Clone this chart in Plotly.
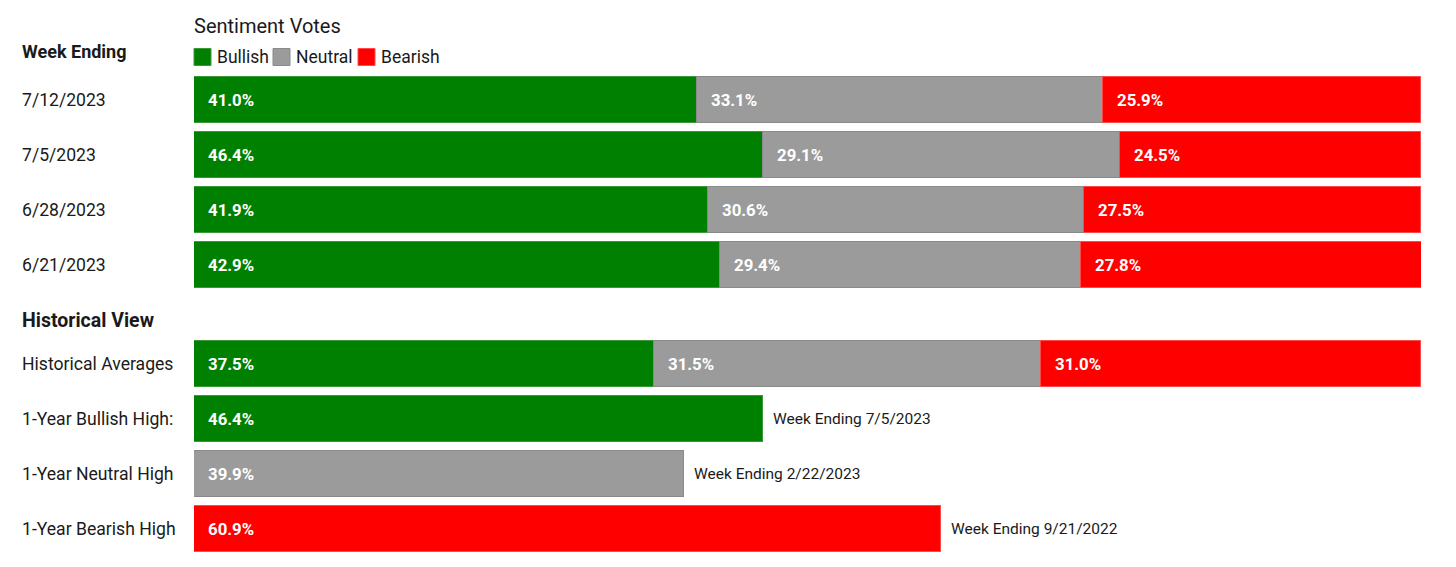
import plotly.graph_objects as go

# ---- data ----
week_labels = ["7/12/2023", "7/5/2023", "6/28/2023", "6/21/2023"]
week_bullish = [41.0, 46.4, 41.9, 42.9]
week_neutral = [33.1, 29.1, 30.6, 29.4]
week_bearish = [25.9, 24.5, 27.5, 27.8]

hist_avg_label = "Historical Averages"
hist_avg = {"Bullish": 37.5, "Neutral": 31.5, "Bearish": 31.0}

high_labels = ["1-Year Bullish High:", "1-Year Neutral High", "1-Year Bearish High"]
high_series = ["Bullish", "Neutral", "Bearish"]
high_values = [46.4, 39.9, 60.9]
high_notes = ["Week Ending 7/5/2023", "Week Ending 2/22/2023", "Week Ending 9/21/2022"]

series_names = ["Bullish", "Neutral", "Bearish"]
colors = {"Bullish": "#008000", "Neutral": "#9b9b9b", "Bearish": "#ff0000"}
edge = {"Bullish": "#3a9a3a", "Neutral": "#8a8a8a", "Bearish": "#ff4a4a"}

FONT = "Roboto"
TXT = "#1a1a1a"

# row positions (in row units)
week_pos = [float(i) for i in range(len(week_labels))]
hist_pos = 4.8
high_pos = [5.8 + i for i in range(len(high_labels))]

week_vals = {"Bullish": week_bullish, "Neutral": week_neutral, "Bearish": week_bearish}

fig = go.Figure()
for s in series_names:
    ys = list(week_pos) + [hist_pos]
    xs = list(week_vals[s]) + [hist_avg[s]]
    k = high_series.index(s)
    ys.append(high_pos[k])
    xs.append(high_values[k])
    fig.add_trace(go.Bar(
        x=xs, y=ys, orientation="h", name=s,
        marker=dict(color=colors[s], line=dict(color=edge[s], width=1)),
        width=0.82, hoverinfo="skip", showlegend=False,
    ))

annotations = []
shapes = []

def value_label(x0, y, v):
    annotations.append(dict(
        x=x0, y=y, xref="x", yref="y", text=f"<b>{v:.1f}%</b>",
        showarrow=False, xanchor="left", yanchor="middle", xshift=12,
        font=dict(family=FONT, size=16.8, color="white")))

for i, y in enumerate(week_pos):
    base = 0.0
    for s in series_names:
        v = week_vals[s][i]
        value_label(base, y, v)
        base += v
base = 0.0
for s in series_names:
    value_label(base, hist_pos, hist_avg[s])
    base += hist_avg[s]
for v, y, note in zip(high_values, high_pos, high_notes):
    value_label(0, y, v)
    annotations.append(dict(
        x=v, y=y, xref="x", yref="y", text=note, showarrow=False,
        xanchor="left", yanchor="middle", xshift=8,
        font=dict(family=FONT, size=15.5, color=TXT)))

# geometry helpers (figure pixels; page has 8px body margin)
W, H = 1456, 567
L, R = 186, 43
PW = W - L - R
ROW0 = 92  # pixel center of first row in figure coords
ROWH = 55

LX = (20 - 194) / PW
for lab, y in zip(week_labels, week_pos):
    annotations.append(dict(x=LX, y=y, xref="paper", yref="y", text=lab, showarrow=False,
                            xanchor="left", yanchor="middle",
                            font=dict(family=FONT, size=17.6, color=TXT)))
for lab, y in zip([hist_avg_label] + high_labels, [hist_pos] + high_pos):
    annotations.append(dict(x=LX, y=y, xref="paper", yref="y", text=lab, showarrow=False,
                            xanchor="left", yanchor="middle",
                            font=dict(family=FONT, size=17.6, color=TXT)))

# headers
annotations.append(dict(x=LX, y=-0.89, xref="paper", yref="y", text="<b>Week Ending</b>",
                        showarrow=False, xanchor="left", yanchor="middle",
                        font=dict(family=FONT, size=18, color=TXT)))
annotations.append(dict(x=LX, y=4.0, xref="paper", yref="y", text="<b>Historical View</b>",
                        showarrow=False, xanchor="left", yanchor="middle",
                        font=dict(family=FONT, size=19.5, color=TXT)))
annotations.append(dict(x=-2 / PW, y=-1.35, xref="paper", yref="y", text="Sentiment Votes",
                        showarrow=False, xanchor="left", yanchor="middle",
                        font=dict(family=FONT, size=20, color=TXT)))

# custom legend: swatch squares + labels (page x positions)
legend_x = [194, 273, 358]
for s, px in zip(series_names, legend_x):
    x0 = (px - 194) / PW
    x1 = (px + 17 - 194) / PW
    yc = 49  # figure px
    shapes.append(dict(type="rect", xref="paper", yref="paper",
                       x0=x0, x1=x1, y0=1 - (yc + 8.5) / H, y1=1 - (yc - 8.5) / H,
                       fillcolor=colors[s], line=dict(color=edge[s], width=1)))
    annotations.append(dict(x=(px + 21 - 194) / PW, y=1 - yc / H, xref="paper", yref="paper",
                            text=s, showarrow=False, xanchor="left", yanchor="middle",
                            font=dict(family=FONT, size=17.5, color=TXT)))

fig.update_layout(
    width=W, height=H,
    barmode="stack",
    margin=dict(l=L, r=R, t=0, b=0),
    plot_bgcolor="white", paper_bgcolor="white",
    xaxis=dict(range=[0, 100], visible=False, fixedrange=True),
    yaxis=dict(range=[(H - ROW0) / ROWH, -ROW0 / ROWH], visible=False, fixedrange=True),
    showlegend=False,
    annotations=annotations,
    shapes=shapes,
    bargap=0,
)

fig.write_html("out.html")
